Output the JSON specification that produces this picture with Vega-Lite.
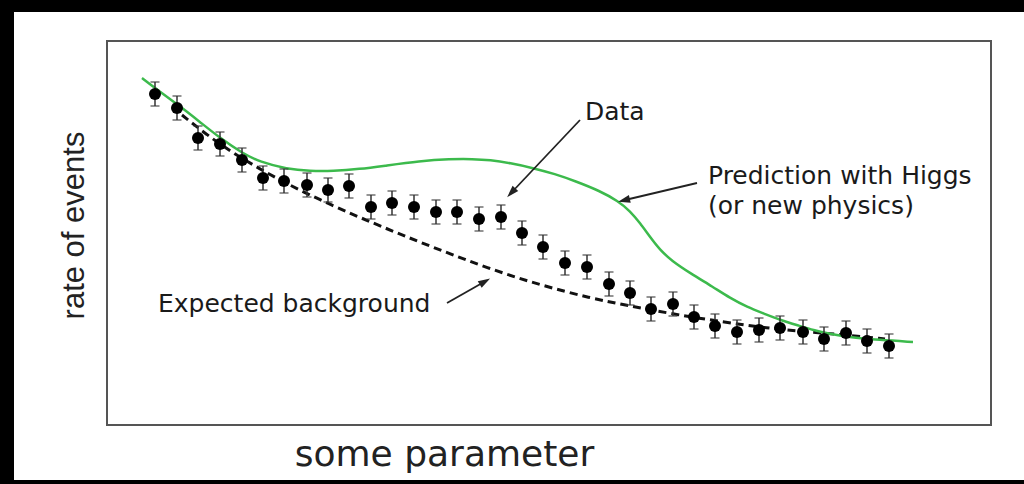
{
  "$schema": "https://vega.github.io/schema/vega-lite/v6.json",
  "width": 1010,
  "height": 468,
  "autosize": {"type": "none"},
  "padding": {"left": 14, "top": 12, "right": 0, "bottom": 4},
  "background": "#000000",
  "config": {
    "view": {"fill": "#ffffff", "stroke": null},
    "font": "DejaVu Sans"
  },
  "datasets": {
    "points": [
      {"x": 48, "y": 331, "err": 12}, {"x": 70, "y": 317, "err": 12}, {"x": 91, "y": 287, "err": 12},
      {"x": 113, "y": 281, "err": 12}, {"x": 135, "y": 265, "err": 12}, {"x": 156, "y": 247, "err": 12},
      {"x": 177, "y": 244, "err": 12}, {"x": 200, "y": 240, "err": 12}, {"x": 221, "y": 235, "err": 12},
      {"x": 242, "y": 239, "err": 12}, {"x": 264, "y": 218, "err": 12}, {"x": 285, "y": 222, "err": 12},
      {"x": 307, "y": 218, "err": 12}, {"x": 329, "y": 213, "err": 12}, {"x": 350, "y": 213, "err": 12},
      {"x": 372, "y": 206, "err": 12}, {"x": 394, "y": 208, "err": 12}, {"x": 415, "y": 192, "err": 12},
      {"x": 436, "y": 178, "err": 12}, {"x": 458, "y": 162, "err": 12}, {"x": 480, "y": 158, "err": 12},
      {"x": 502, "y": 141, "err": 12}, {"x": 523, "y": 132, "err": 12}, {"x": 544, "y": 116, "err": 12},
      {"x": 566, "y": 121, "err": 12}, {"x": 587, "y": 108, "err": 12}, {"x": 608, "y": 99, "err": 12},
      {"x": 630, "y": 93, "err": 12}, {"x": 652, "y": 95, "err": 12}, {"x": 673, "y": 97, "err": 12},
      {"x": 696, "y": 93, "err": 12}, {"x": 717, "y": 86, "err": 12}, {"x": 739, "y": 92, "err": 12},
      {"x": 760, "y": 84, "err": 12}, {"x": 782, "y": 79, "err": 12}
    ],
    "higgs": [
      {"x": 35, "y": 347}, {"x": 48, "y": 337}, {"x": 70, "y": 321}, {"x": 93, "y": 303},
      {"x": 113, "y": 287}, {"x": 135, "y": 272}, {"x": 153, "y": 263}, {"x": 180, "y": 256},
      {"x": 203, "y": 254}, {"x": 226, "y": 254}, {"x": 253, "y": 256}, {"x": 276, "y": 259},
      {"x": 313, "y": 264}, {"x": 343, "y": 266}, {"x": 366, "y": 266}, {"x": 383, "y": 265},
      {"x": 403, "y": 262}, {"x": 426, "y": 257}, {"x": 448, "y": 251}, {"x": 468, "y": 244},
      {"x": 493, "y": 234}, {"x": 511, "y": 224}, {"x": 523, "y": 214}, {"x": 533, "y": 202},
      {"x": 543, "y": 188}, {"x": 553, "y": 175}, {"x": 565, "y": 164}, {"x": 583, "y": 152},
      {"x": 606, "y": 138}, {"x": 623, "y": 127}, {"x": 640, "y": 118}, {"x": 658, "y": 111},
      {"x": 673, "y": 105}, {"x": 693, "y": 99}, {"x": 706, "y": 95}, {"x": 723, "y": 91},
      {"x": 740, "y": 88}, {"x": 773, "y": 85}, {"x": 806, "y": 83}
    ],
    "background": [
      {"x": 75, "y": 310}, {"x": 100, "y": 290}, {"x": 126, "y": 272}, {"x": 153, "y": 256},
      {"x": 180, "y": 241}, {"x": 226, "y": 219}, {"x": 266, "y": 202}, {"x": 300, "y": 188},
      {"x": 333, "y": 175}, {"x": 383, "y": 156}, {"x": 433, "y": 140}, {"x": 483, "y": 127},
      {"x": 523, "y": 119}, {"x": 566, "y": 111}, {"x": 616, "y": 103}, {"x": 660, "y": 97},
      {"x": 700, "y": 93}, {"x": 740, "y": 90}, {"x": 778, "y": 86}
    ],
    "labels": [
      {"text": "Data", "x": 478, "y": 305},
      {"text": "Prediction with Higgs", "x": 601, "y": 241},
      {"text": "(or new physics)", "x": 601, "y": 211},
      {"text": "Expected background", "x": 51, "y": 113}
    ],
    "arrows": [
      {"name": "data", "x": 473, "y": 305, "x2": 405, "y2": 233},
      {"name": "higgs", "x": 590, "y": 242, "x2": 518, "y2": 225},
      {"name": "background", "x": 340, "y": 122, "x2": 377, "y2": 143}
    ],
    "frame": [
      {"region": "plot", "x": 0, "x2": 884, "y": 0, "y2": 384}
    ]
  },
  "encoding": {
    "x": {
      "field": "x", "type": "quantitative",
      "scale": {"domain": [-93, 917], "nice": false, "zero": false},
      "axis": {
        "title": "some parameter", "labels": false, "ticks": false, "domain": false, "grid": false,
        "titleX": 430, "titleY": -15, "titleAlign": "center", "titleBaseline": "alphabetic",
        "titleFont": "DejaVu Sans", "titleFontSize": 36, "titleFontWeight": "normal", "titleColor": "#222222"
      }
    },
    "y": {
      "field": "y", "type": "quantitative",
      "scale": {"domain": [-55, 413], "nice": false, "zero": false},
      "axis": {
        "title": "rate of events", "labels": false, "ticks": false, "domain": false, "grid": false,
        "titleX": 69, "titleY": 213, "titleAngle": 270, "titleAlign": "center", "titleBaseline": "alphabetic",
        "titleFont": "Liberation Sans", "titleFontSize": 31, "titleFontWeight": "normal", "titleColor": "#222222"
      }
    }
  },
  "layer": [
    {
      "data": {"name": "frame"},
      "mark": {"type": "rect", "fill": "#ffffff", "fillOpacity": 0, "stroke": "#555555", "strokeWidth": 2, "strokeOpacity": 1},
      "encoding": {
        "x2": {"field": "x2"},
        "y2": {"field": "y2"}
      }
    },
    {
      "data": {"name": "background"},
      "mark": {"type": "line", "color": "#111111", "strokeWidth": 3, "strokeDash": [8, 5], "interpolate": "basis"}
    },
    {
      "data": {"name": "higgs"},
      "mark": {"type": "line", "color": "#3cba4c", "strokeWidth": 2.5, "interpolate": "basis"}
    },
    {
      "data": {"name": "points"},
      "mark": {"type": "errorbar", "ticks": true, "size": 9, "thickness": 1.5, "color": "#333333"},
      "encoding": {"yError": {"field": "err"}}
    },
    {
      "data": {"name": "points"},
      "mark": {"type": "point", "filled": true, "color": "#000000", "size": 145, "opacity": 1}
    },
    {
      "data": {"name": "arrows"},
      "mark": {"type": "rule", "color": "#222222", "strokeWidth": 1.8},
      "encoding": {"x2": {"field": "x2"}, "y2": {"field": "y2"}}
    },
    {
      "data": {"name": "arrows"},
      "transform": [{"filter": "datum.name == 'data'"}],
      "mark": {"type": "point", "filled": true, "color": "#222222", "opacity": 1, "size": 200, "angle": 223.5, "shape": "M0,-1L0.55,0.7L-0.55,0.7Z"},
      "encoding": {"x": {"field": "x2", "type": "quantitative"}, "y": {"field": "y2", "type": "quantitative"}}
    },
    {
      "data": {"name": "arrows"},
      "transform": [{"filter": "datum.name == 'higgs'"}],
      "mark": {"type": "point", "filled": true, "color": "#222222", "opacity": 1, "size": 200, "angle": 256.5, "shape": "M0,-1L0.55,0.7L-0.55,0.7Z"},
      "encoding": {"x": {"field": "x2", "type": "quantitative"}, "y": {"field": "y2", "type": "quantitative"}}
    },
    {
      "data": {"name": "arrows"},
      "transform": [{"filter": "datum.name == 'background'"}],
      "mark": {"type": "point", "filled": true, "color": "#222222", "opacity": 1, "size": 200, "angle": 59.8, "shape": "M0,-1L0.55,0.7L-0.55,0.7Z"},
      "encoding": {"x": {"field": "x2", "type": "quantitative"}, "y": {"field": "y2", "type": "quantitative"}}
    },
    {
      "data": {"name": "labels"},
      "mark": {"type": "text", "align": "left", "baseline": "alphabetic", "font": "DejaVu Sans", "fontSize": 25, "color": "#1a1a1a"},
      "encoding": {"text": {"field": "text"}}
    }
  ]
}
